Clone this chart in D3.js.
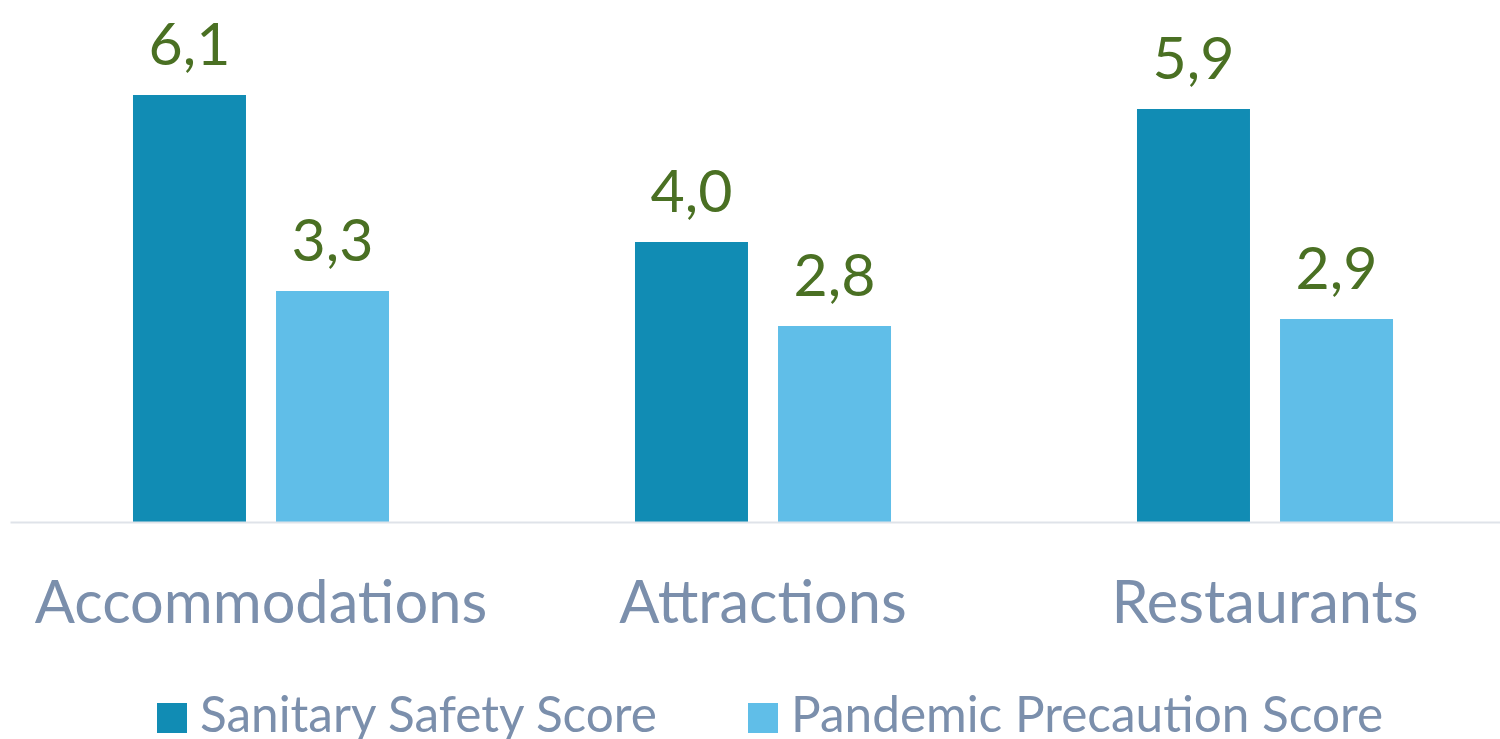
<!DOCTYPE html>
<html>
<head>
<meta charset="utf-8">
<script src="https://cdn.jsdelivr.net/npm/d3@7"></script>
<style>
  html, body { margin: 0; padding: 0; background: #fff; overflow: hidden; }
  svg text { font-family: Lato, "Noto Sans", sans-serif; }
</style>
</head>
<body>
<div id="chart"></div>
<script>
'use strict'

// data
var categories = ["Accommodations", "Attractions", "Restaurants"];
var seriesNames = ["Sanitary Safety Score", "Pandemic Precaution Score"];
var sanitary = [6.1, 4.0, 5.9];
var pandemic = [3.3, 2.8, 2.9];
var valueLabels = [["6,1", "3,3"], ["4,0", "2,8"], ["5,9", "2,9"]];

const width = 1500;
const height = 739;
const baseline = 522;
const colors = ['#118cb4', '#60bee8'];

var svg = d3.select('#chart').append('svg')
  .attr('width', width)
  .attr('height', height);

// scales
var x = d3.scaleBand()
  .domain(categories)
  .range([10, 1516])
  .paddingInner(0.49)
  .paddingOuter(0.245);

var xInner = d3.scaleBand()
  .domain(d3.range(seriesNames.length))
  .range([0, x.bandwidth()])
  .paddingInner(0.21);

var y = d3.scaleLinear()
  .domain([0, 6.1])
  .range([baseline, 95]);

// one row per category
var rows = categories.map(function(c, i) {
  return {cat: c, values: [sanitary[i], pandemic[i]], labels: valueLabels[i]};
});

var groups = svg.selectAll('g.grp')
  .data(rows)
  .enter().append('g')
  .attr('class', 'grp')
  .attr('transform', function(d) { return 'translate(' + x(d.cat) + ',0)'; });

groups.selectAll('rect')
  .data(function(d) { return d.values.map(function(v, j) { return {v: v, j: j}; }); })
  .enter().append('rect')
  .attr('x', function(d) { return xInner(d.j); })
  .attr('width', xInner.bandwidth())
  .attr('y', function(d) { return y(d.v); })
  .attr('height', function(d) { return baseline - y(d.v); })
  .style('fill', function(d) { return colors[d.j]; });

// value labels
groups.selectAll('text.val')
  .data(function(d) { return d.values.map(function(v, j) { return {v: v, j: j, t: d.labels[j]}; }); })
  .enter().append('text')
  .attr('class', 'val')
  .attr('x', function(d) { return xInner(d.j) + xInner.bandwidth() / 2; })
  .attr('y', function(d) { return y(d.v) - 30; })
  .style('text-anchor', 'middle')
  .style('font-size', '59px')
  .style('fill', '#4a7023')
  .text(function(d) { return d.t; });

// x axis
var xAxis = d3.axisBottom(x).tickSize(0).tickPadding(58);
var xg = svg.append('g')
  .attr('transform', 'translate(0,' + baseline + ')')
  .call(xAxis);
xg.select('.domain')
  .attr('stroke', '#dfe3e9')
  .attr('stroke-width', 2);
xg.selectAll('text')
  .attr('dy', null)
  .attr('y', 101)
  .style('font-family', 'Lato, "Noto Sans", sans-serif')
  .style('font-size', '59.5px')
  .style('fill', '#7b8fac');

// legend
var legendX = [157, 748];
var legend = svg.selectAll('g.legend')
  .data(seriesNames)
  .enter().append('g')
  .attr('class', 'legend')
  .attr('transform', function(d, i) { return 'translate(' + legendX[i] + ',703)'; });

legend.append('rect')
  .attr('width', 30)
  .attr('height', 30)
  .style('fill', function(d, i) { return colors[i]; });

legend.append('text')
  .attr('x', 43)
  .attr('y', 29)
  .style('font-size', '49.5px')
  .style('fill', '#7b8fac')
  .text(function(d) { return d; });
</script>
</body>
</html>
